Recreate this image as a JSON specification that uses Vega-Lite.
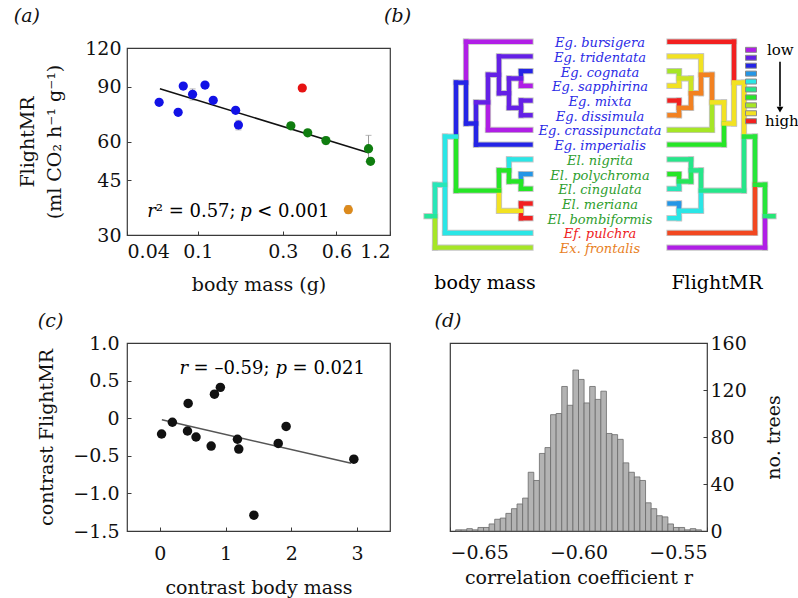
{
  "$schema": "https://vega.github.io/schema/vega-lite/v6.json",
  "background": "white",
  "padding": {"left": 13, "top": 6, "right": 0, "bottom": 0},
  "bounds": "flush",
  "columns": 2,
  "spacing": {"row": 108, "column": 60},
  "datasets": {
    "ptsA": [
      {"m": 0.0606, "f": 80.2, "g": "Euglossa", "lo": 79.0, "hi": 81.5},
      {"m": 0.0775, "f": 74.5, "g": "Euglossa", "lo": 73.5, "hi": 75.5},
      {"m": 0.0828, "f": 90.5, "g": "Euglossa", "lo": 89.3, "hi": 91.7},
      {"m": 0.0934, "f": 85.1, "g": "Euglossa", "lo": 81.6, "hi": 88.6},
      {"m": 0.1097, "f": 91.2, "g": "Euglossa", "lo": 89.5, "hi": 93.0},
      {"m": 0.122, "f": 81.4, "g": "Euglossa", "lo": 80.3, "hi": 82.5},
      {"m": 0.163, "f": 75.6, "g": "Euglossa", "lo": 74.6, "hi": 76.6},
      {"m": 0.169, "f": 67.8, "g": "Euglossa", "lo": 65.4, "hi": 70.2},
      {"m": 0.386, "f": 89.2, "g": "Eufriesea", "lo": 88.4, "hi": 90.0},
      {"m": 0.333, "f": 67.4, "g": "Eulaema", "lo": 65.9, "hi": 68.9},
      {"m": 0.414, "f": 64.0, "g": "Eulaema", "lo": 63.0, "hi": 65.0},
      {"m": 0.524, "f": 60.4, "g": "Eulaema", "lo": 58.8, "hi": 62.0},
      {"m": 0.909, "f": 56.9, "g": "Eulaema", "lo": 51.6, "hi": 62.8},
      {"m": 0.933, "f": 51.8, "g": "Eulaema", "lo": 51.0, "hi": 52.6},
      {"m": 0.70, "f": 36.2, "g": "Exaerete", "lo": 35.2, "hi": 37.3}
    ],
    "segs": [
      {"x": -134, "x2": -69.5, "y": 0, "y2": 0, "v": 1},
      {"x": -101, "x2": -69.5, "y": 1, "y2": 1, "v": 2},
      {"x": -79, "x2": -69.5, "y": 2, "y2": 2, "v": 3},
      {"x": -79, "x2": -69.5, "y": 3, "y2": 3, "v": 1},
      {"x": -79, "x2": -69.5, "y": 4, "y2": 4, "v": 2},
      {"x": -79, "x2": -69.5, "y": 5, "y2": 5, "v": 2},
      {"x": -112, "x2": -69.5, "y": 6, "y2": 6, "v": 1},
      {"x": -124, "x2": -69.5, "y": 7, "y2": 7, "v": 3},
      {"x": -91, "x2": -69.5, "y": 8, "y2": 8, "v": 5},
      {"x": -79, "x2": -69.5, "y": 9, "y2": 9, "v": 4},
      {"x": -79, "x2": -69.5, "y": 10, "y2": 10, "v": 7},
      {"x": -79, "x2": -69.5, "y": 11, "y2": 11, "v": 10},
      {"x": -79, "x2": -69.5, "y": 12, "y2": 12, "v": 10},
      {"x": -155, "x2": -69.5, "y": 13, "y2": 13, "v": 5},
      {"x": -165, "x2": -69.5, "y": 14, "y2": 14, "v": 8},
      {"x": -79, "x2": -79, "y": 2, "y2": 2.5, "v": 3},
      {"x": -79, "x2": -79, "y": 2.5, "y2": 3, "v": 1},
      {"x": -79, "x2": -79, "y": 4, "y2": 5, "v": 2},
      {"x": -91, "x2": -91, "y": 2.5, "y2": 4.5, "v": 2},
      {"x": -101, "x2": -101, "y": 1, "y2": 3.5, "v": 2},
      {"x": -112, "x2": -112, "y": 2.25, "y2": 4.125, "v": 2},
      {"x": -112, "x2": -112, "y": 4.125, "y2": 6, "v": 1},
      {"x": -124, "x2": -124, "y": 4.125, "y2": 5.5625, "v": 2.5},
      {"x": -124, "x2": -124, "y": 5.5625, "y2": 7, "v": 3},
      {"x": -134, "x2": -134, "y": 0, "y2": 2.78125, "v": 1},
      {"x": -134, "x2": -134, "y": 2.78125, "y2": 5.5625, "v": 3},
      {"x": -79, "x2": -79, "y": 9, "y2": 9.5, "v": 4},
      {"x": -79, "x2": -79, "y": 9.5, "y2": 10, "v": 7},
      {"x": -91, "x2": -91, "y": 8, "y2": 8.75, "v": 5},
      {"x": -91, "x2": -91, "y": 8.75, "y2": 9.5, "v": 7},
      {"x": -79, "x2": -79, "y": 11, "y2": 12, "v": 10},
      {"x": -101, "x2": -101, "y": 8.75, "y2": 10.125, "v": 7},
      {"x": -101, "x2": -101, "y": 10.125, "y2": 11.5, "v": 9},
      {"x": -144, "x2": -144, "y": 2.78125, "y2": 6.453, "v": 3},
      {"x": -144, "x2": -144, "y": 6.453, "y2": 10.125, "v": 7},
      {"x": -155, "x2": -155, "y": 6.453, "y2": 13, "v": 5},
      {"x": -165, "x2": -165, "y": 9.727, "y2": 11.863, "v": 5.5},
      {"x": -165, "x2": -165, "y": 11.863, "y2": 14, "v": 8},
      {"x": -91, "x2": -79, "y": 2.5, "y2": 2.5, "v": 2},
      {"x": -91, "x2": -79, "y": 4.5, "y2": 4.5, "v": 2},
      {"x": -101, "x2": -91, "y": 3.5, "y2": 3.5, "v": 2},
      {"x": -112, "x2": -101, "y": 2.25, "y2": 2.25, "v": 2},
      {"x": -124, "x2": -112, "y": 4.125, "y2": 4.125, "v": 2},
      {"x": -134, "x2": -124, "y": 5.5625, "y2": 5.5625, "v": 3},
      {"x": -144, "x2": -134, "y": 2.78125, "y2": 2.78125, "v": 3},
      {"x": -91, "x2": -79, "y": 9.5, "y2": 9.5, "v": 7},
      {"x": -101, "x2": -91, "y": 8.75, "y2": 8.75, "v": 7},
      {"x": -101, "x2": -79, "y": 11.5, "y2": 11.5, "v": 9},
      {"x": -144, "x2": -101, "y": 10.125, "y2": 10.125, "v": 7},
      {"x": -155, "x2": -144, "y": 6.453, "y2": 6.453, "v": 5},
      {"x": -165, "x2": -155, "y": 9.727, "y2": 9.727, "v": 5.5},
      {"x": -173.5, "x2": -165, "y": 11.863, "y2": 11.863, "v": 5.8},
      {"x": 69.5, "x2": 134, "y": 0, "y2": 0, "v": 10},
      {"x": 69.5, "x2": 101, "y": 1, "y2": 1, "v": 9},
      {"x": 69.5, "x2": 79, "y": 2, "y2": 2, "v": 8},
      {"x": 69.5, "x2": 79, "y": 3, "y2": 3, "v": 9},
      {"x": 69.5, "x2": 79, "y": 4, "y2": 4, "v": 10},
      {"x": 69.5, "x2": 79, "y": 5, "y2": 5, "v": 9.5},
      {"x": 69.5, "x2": 112, "y": 6, "y2": 6, "v": 8},
      {"x": 69.5, "x2": 124, "y": 7, "y2": 7, "v": 7},
      {"x": 69.5, "x2": 91, "y": 8, "y2": 8, "v": 6},
      {"x": 69.5, "x2": 79, "y": 9, "y2": 9, "v": 7},
      {"x": 69.5, "x2": 79, "y": 10, "y2": 10, "v": 5.5},
      {"x": 69.5, "x2": 79, "y": 11, "y2": 11, "v": 4},
      {"x": 69.5, "x2": 79, "y": 12, "y2": 12, "v": 5},
      {"x": 69.5, "x2": 155, "y": 13, "y2": 13, "v": 9.8},
      {"x": 69.5, "x2": 165, "y": 14, "y2": 14, "v": 1},
      {"x": 79, "x2": 79, "y": 2, "y2": 2.5, "v": 8},
      {"x": 79, "x2": 79, "y": 2.5, "y2": 3, "v": 9},
      {"x": 79, "x2": 79, "y": 4, "y2": 4.5, "v": 10},
      {"x": 79, "x2": 79, "y": 4.5, "y2": 5, "v": 9.5},
      {"x": 91, "x2": 91, "y": 2.5, "y2": 3.5, "v": 8.5},
      {"x": 91, "x2": 91, "y": 3.5, "y2": 4.5, "v": 9.5},
      {"x": 101, "x2": 101, "y": 1, "y2": 2.25, "v": 9},
      {"x": 101, "x2": 101, "y": 2.25, "y2": 3.5, "v": 9.5},
      {"x": 112, "x2": 112, "y": 2.25, "y2": 4.125, "v": 9.5},
      {"x": 112, "x2": 112, "y": 4.125, "y2": 6, "v": 8},
      {"x": 124, "x2": 124, "y": 4.125, "y2": 5.5625, "v": 9},
      {"x": 124, "x2": 124, "y": 5.5625, "y2": 7, "v": 7},
      {"x": 134, "x2": 134, "y": 0, "y2": 2.78125, "v": 10},
      {"x": 134, "x2": 134, "y": 2.78125, "y2": 5.5625, "v": 9},
      {"x": 79, "x2": 79, "y": 9, "y2": 9.5, "v": 7},
      {"x": 79, "x2": 79, "y": 9.5, "y2": 10, "v": 5.5},
      {"x": 91, "x2": 91, "y": 8, "y2": 8.75, "v": 6},
      {"x": 91, "x2": 91, "y": 8.75, "y2": 9.5, "v": 6.5},
      {"x": 79, "x2": 79, "y": 11, "y2": 11.5, "v": 4},
      {"x": 79, "x2": 79, "y": 11.5, "y2": 12, "v": 5},
      {"x": 101, "x2": 101, "y": 8.75, "y2": 10.125, "v": 6},
      {"x": 101, "x2": 101, "y": 10.125, "y2": 11.5, "v": 5},
      {"x": 144, "x2": 144, "y": 2.78125, "y2": 6.453, "v": 9},
      {"x": 144, "x2": 144, "y": 6.453, "y2": 10.125, "v": 6},
      {"x": 155, "x2": 155, "y": 6.453, "y2": 9.727, "v": 6.8},
      {"x": 155, "x2": 155, "y": 9.727, "y2": 13, "v": 9.8},
      {"x": 165, "x2": 165, "y": 9.727, "y2": 11.863, "v": 6.8},
      {"x": 165, "x2": 165, "y": 11.863, "y2": 14, "v": 1},
      {"x": 79, "x2": 91, "y": 2.5, "y2": 2.5, "v": 8.5},
      {"x": 79, "x2": 91, "y": 4.5, "y2": 4.5, "v": 9.5},
      {"x": 91, "x2": 101, "y": 3.5, "y2": 3.5, "v": 9.5},
      {"x": 101, "x2": 112, "y": 2.25, "y2": 2.25, "v": 9.5},
      {"x": 112, "x2": 124, "y": 4.125, "y2": 4.125, "v": 9},
      {"x": 124, "x2": 134, "y": 5.5625, "y2": 5.5625, "v": 9},
      {"x": 134, "x2": 144, "y": 2.78125, "y2": 2.78125, "v": 9},
      {"x": 79, "x2": 91, "y": 9.5, "y2": 9.5, "v": 6.5},
      {"x": 91, "x2": 101, "y": 8.75, "y2": 8.75, "v": 6},
      {"x": 79, "x2": 101, "y": 11.5, "y2": 11.5, "v": 5},
      {"x": 101, "x2": 144, "y": 10.125, "y2": 10.125, "v": 6},
      {"x": 144, "x2": 155, "y": 6.453, "y2": 6.453, "v": 6.8},
      {"x": 155, "x2": 165, "y": 9.727, "y2": 9.727, "v": 6.8},
      {"x": 165, "x2": 173.5, "y": 11.863, "y2": 11.863, "v": 6.2}
    ]
  },
  "concat": [
    {
      "width": 263,
      "height": 187,
      "title": {"text": "(a)", "offset": 13, "dx": -5},
      "encoding": {
        "x": {"field": "m", "type": "quantitative",
              "scale": {"type": "log", "domain": [0.04, 1.2], "nice": false},
              "axis": {"values": [0.04, 0.1, 0.3, 0.6, 1.2], "format": "~g", "title": "body mass (g)", "labelPadding": 11, "titlePadding": 14}},
        "y": {"field": "f", "type": "quantitative",
              "scale": {"type": "log", "domain": [30, 120], "nice": false},
              "axis": {"values": [30, 45, 60, 90, 120], "format": "d", "title": ["FlightMR", "(ml CO₂ h⁻¹ g⁻¹)"], "labelPadding": 10, "titlePadding": 20, "titleLineHeight": 27}}
      },
      "layer": [
        {"data": {"name": "ptsA"}, "mark": {"type": "rule", "color": "#9a9a9a", "strokeWidth": 1},
         "encoding": {"y": {"field": "lo", "type": "quantitative", "scale": {"type": "log", "domain": [30, 120], "nice": false}}, "y2": {"field": "hi"}}},
        {"data": {"name": "ptsA"}, "mark": {"type": "tick", "orient": "horizontal", "color": "#9a9a9a", "size": 6, "thickness": 1},
         "encoding": {"y": {"field": "hi", "type": "quantitative", "scale": {"type": "log", "domain": [30, 120], "nice": false}}}},
        {"data": {"name": "ptsA"}, "mark": {"type": "tick", "orient": "horizontal", "color": "#9a9a9a", "size": 6, "thickness": 1},
         "encoding": {"y": {"field": "lo", "type": "quantitative", "scale": {"type": "log", "domain": [30, 120], "nice": false}}}},
        {"data": {"values": [{"m": 0.0612, "f": 88.7}, {"m": 0.909, "f": 55.2}]},
         "mark": {"type": "line", "color": "#111111", "strokeWidth": 1.5}},
        {"data": {"name": "ptsA"}, "mark": {"type": "circle", "size": 85, "opacity": 1},
         "encoding": {"color": {"field": "g", "type": "nominal", "legend": null,
           "scale": {"domain": ["Euglossa", "Eulaema", "Eufriesea", "Exaerete"], "range": ["#1212e6", "#0f7d0f", "#e61212", "#dc8a1c"]}}}},
        {"data": {"values": [{"m": 0.0519, "f": 35.6, "t": "r"}]}, "mark": {"type": "text", "align": "left", "baseline": "middle", "fontSize": 18, "fontStyle": "italic", "font": "DejaVu Serif"}, "encoding": {"text": {"field": "t"}}},
        {"data": {"values": [{"m": 0.0519, "f": 35.6, "t": "² = 0.57;"}]}, "mark": {"type": "text", "align": "left", "baseline": "middle", "fontSize": 18, "dx": 8.6, "font": "DejaVu Serif"}, "encoding": {"text": {"field": "t"}}},
        {"data": {"values": [{"m": 0.0519, "f": 35.6, "t": "p"}]}, "mark": {"type": "text", "align": "left", "baseline": "middle", "fontSize": 18, "fontStyle": "italic", "dx": 93, "font": "DejaVu Serif"}, "encoding": {"text": {"field": "t"}}},
        {"data": {"values": [{"m": 0.0519, "f": 35.6, "t": "< 0.001"}]}, "mark": {"type": "text", "align": "left", "baseline": "middle", "fontSize": 18, "dx": 110, "font": "DejaVu Serif"}, "encoding": {"text": {"field": "t"}}}
      ]
    },
    {
      "width": 257,
      "height": 187,
      "view": {"stroke": null},
      "title": {"text": "(b)", "offset": 11, "dx": -38},
      "encoding": {
        "x": {"field": "x", "type": "quantitative", "scale": {"domain": [-150, 107], "nice": false, "zero": false}, "axis": null},
        "y": {"field": "y", "type": "quantitative", "scale": {"domain": [0.428, 13.141], "nice": false, "zero": false, "reverse": true}, "axis": null}
      },
      "layer": [
        {"data": {"name": "segs"}, "mark": {"type": "rule", "color": "#c4c4c4", "strokeWidth": 6.2, "strokeCap": "square"},
         "encoding": {"x2": {"field": "x2"}, "y2": {"field": "y2"}}},
        {"data": {"name": "segs"}, "mark": {"type": "rule", "strokeWidth": 4.4, "strokeCap": "square"},
         "encoding": {"x2": {"field": "x2"}, "y2": {"field": "y2"},
           "stroke": {"field": "v", "type": "quantitative", "legend": null,
             "scale": {"domain": [1, 2, 3, 4, 5, 6, 7, 8, 9, 10], "range": ["#b01ee6", "#6420e6", "#2424e6", "#2496e6", "#2ae6e6", "#26e68a", "#26e626", "#a6e626", "#f2e222", "#f22020"], "interpolate": "rgb"}}}},
        {"data": {"values": [
           {"v": 1, "x": 145.5, "x2": 156.5, "y": 0.383, "y2": 0.723},
           {"v": 2, "x": 145.5, "x2": 156.5, "y": 0.922, "y2": 1.262},
           {"v": 3, "x": 145.5, "x2": 156.5, "y": 1.461, "y2": 1.801},
           {"v": 4, "x": 145.5, "x2": 156.5, "y": 2.0, "y2": 2.34},
           {"v": 5, "x": 145.5, "x2": 156.5, "y": 2.539, "y2": 2.879},
           {"v": 6, "x": 145.5, "x2": 156.5, "y": 3.078, "y2": 3.418},
           {"v": 7, "x": 145.5, "x2": 156.5, "y": 3.617, "y2": 3.957},
           {"v": 8, "x": 145.5, "x2": 156.5, "y": 4.156, "y2": 4.496},
           {"v": 9, "x": 145.5, "x2": 156.5, "y": 4.695, "y2": 5.035},
           {"v": 10, "x": 145.5, "x2": 156.5, "y": 5.234, "y2": 5.574}
         ]},
         "mark": {"type": "rect", "stroke": "#8a8a8a", "strokeWidth": 1},
         "encoding": {"x2": {"field": "x2"}, "y2": {"field": "y2"},
           "fill": {"field": "v", "type": "quantitative", "legend": null,
             "scale": {"domain": [1, 2, 3, 4, 5, 6, 7, 8, 9, 10], "range": ["#b01ee6", "#6420e6", "#2424e6", "#2496e6", "#2ae6e6", "#26e68a", "#26e626", "#a6e626", "#f2e222", "#f22020"]}}}},
        {"data": {"values": [{"x": 180, "x2": 180, "y": 1.36, "y2": 4.4}]},
         "mark": {"type": "rule", "color": "#000000", "strokeWidth": 1.6},
         "encoding": {"x2": {"field": "x2"}, "y2": {"field": "y2"}}},
        {"data": {"values": [{"x": 180, "y": 4.62}]},
         "mark": {"type": "point", "shape": "triangle-down", "filled": true, "color": "#000000", "size": 45, "opacity": 1}},
        {"data": {"values": [{"x": 167, "y": 0.56, "t": "low"}, {"x": 165, "y": 5.4, "t": "high"}]},
         "mark": {"type": "text", "align": "left", "baseline": "middle", "fontSize": 15, "font": "DejaVu Serif", "color": "#000000"},
         "encoding": {"text": {"field": "t"}}},
        {"data": {"values": [{"x": -115, "y": 16.4, "t": "body mass"}, {"x": 117, "y": 16.4, "t": "FlightMR"}]},
         "mark": {"type": "text", "align": "center", "baseline": "middle", "fontSize": 19, "font": "DejaVu Serif", "color": "#000000"},
         "encoding": {"text": {"field": "t"}}},
        {"data": {"values": [
           {"x": 0, "y": 0, "t": "Eg. bursigera", "g": "Euglossa"},
           {"x": 0, "y": 1, "t": "Eg. tridentata", "g": "Euglossa"},
           {"x": 0, "y": 2, "t": "Eg. cognata", "g": "Euglossa"},
           {"x": 0, "y": 3, "t": "Eg. sapphirina", "g": "Euglossa"},
           {"x": 0, "y": 4, "t": "Eg. mixta", "g": "Euglossa"},
           {"x": 0, "y": 5, "t": "Eg. dissimula", "g": "Euglossa"},
           {"x": 0, "y": 6, "t": "Eg. crassipunctata", "g": "Euglossa"},
           {"x": 0, "y": 7, "t": "Eg. imperialis", "g": "Euglossa"},
           {"x": 0, "y": 8, "t": "El. nigrita", "g": "Eulaema"},
           {"x": 0, "y": 9, "t": "El. polychroma", "g": "Eulaema"},
           {"x": 0, "y": 10, "t": "El. cingulata", "g": "Eulaema"},
           {"x": 0, "y": 11, "t": "El. meriana", "g": "Eulaema"},
           {"x": 0, "y": 12, "t": "El. bombiformis", "g": "Eulaema"},
           {"x": 0, "y": 13, "t": "Ef. pulchra", "g": "Eufriesea"},
           {"x": 0, "y": 14, "t": "Ex. frontalis", "g": "Exaerete"}
         ]},
         "mark": {"type": "text", "align": "center", "baseline": "middle", "fontSize": 13, "fontStyle": "italic", "font": "DejaVu Serif", "dy": 1.5},
         "encoding": {"text": {"field": "t"},
           "fill": {"field": "g", "type": "nominal", "legend": null,
             "scale": {"domain": ["Euglossa", "Eulaema", "Eufriesea", "Exaerete"], "range": ["#2b2be6", "#2e9e2e", "#ee1c1c", "#e8801e"]}}}}
      ],
      "resolve": {"scale": {"fill": "independent", "stroke": "independent", "color": "independent"}}
    },
    {
      "width": 263,
      "height": 188,
      "title": {"text": "(c)", "offset": 3},
      "encoding": {
        "x": {"field": "cx", "type": "quantitative", "scale": {"domain": [-0.5, 3.5], "nice": false, "zero": false},
              "axis": {"values": [0, 1, 2, 3], "format": "d", "title": "contrast body mass", "labelPadding": 17, "titlePadding": 15}},
        "y": {"field": "cy", "type": "quantitative", "scale": {"domain": [-1.5, 1.0], "nice": false, "zero": false},
              "axis": {"values": [-1.5, -1, -0.5, 0, 0.5, 1], "labelExpr": "datum.value == 0 ? '0' : format(datum.value, '.1f')", "title": "contrast FlightMR", "labelPadding": 12, "titlePadding": 16}}
      },
      "layer": [
        {"data": {"values": [{"cx": 0.03, "cy": -0.022}, {"cx": 2.91, "cy": -0.60}]},
         "mark": {"type": "line", "color": "#555555", "strokeWidth": 1.5}},
        {"data": {"values": [
           {"cx": 0.026, "cy": -0.21}, {"cx": 0.19, "cy": -0.054}, {"cx": 0.43, "cy": 0.196},
           {"cx": 0.42, "cy": -0.17}, {"cx": 0.55, "cy": -0.25}, {"cx": 0.78, "cy": -0.37},
           {"cx": 0.83, "cy": 0.32}, {"cx": 0.92, "cy": 0.41}, {"cx": 1.18, "cy": -0.28},
           {"cx": 1.2, "cy": -0.41}, {"cx": 1.43, "cy": -1.29}, {"cx": 1.8, "cy": -0.335},
           {"cx": 1.92, "cy": -0.11}, {"cx": 2.95, "cy": -0.545}
         ]},
         "mark": {"type": "circle", "size": 90, "color": "#111111", "opacity": 1}},
        {"data": {"values": [{"cx": 0.3, "cy": 0.648, "t": "r"}]}, "mark": {"type": "text", "align": "left", "baseline": "middle", "fontSize": 18, "fontStyle": "italic", "font": "DejaVu Serif"}, "encoding": {"text": {"field": "t"}}},
        {"data": {"values": [{"cx": 0.3, "cy": 0.648, "t": "= –0.59;"}]}, "mark": {"type": "text", "align": "left", "baseline": "middle", "fontSize": 18, "dx": 14, "font": "DejaVu Serif"}, "encoding": {"text": {"field": "t"}}},
        {"data": {"values": [{"cx": 0.3, "cy": 0.648, "t": "p"}]}, "mark": {"type": "text", "align": "left", "baseline": "middle", "fontSize": 18, "fontStyle": "italic", "dx": 96, "font": "DejaVu Serif"}, "encoding": {"text": {"field": "t"}}},
        {"data": {"values": [{"cx": 0.3, "cy": 0.648, "t": "= 0.021"}]}, "mark": {"type": "text", "align": "left", "baseline": "middle", "fontSize": 18, "dx": 113, "font": "DejaVu Serif"}, "encoding": {"text": {"field": "t"}}}
      ]
    },
    {
      "width": 257,
      "height": 188,
      "title": {"text": "(d)", "offset": 3, "dx": -15},
      "data": {"values": [
        {"lo": -0.647826, "hi": -0.645652, "n": 1},
        {"lo": -0.645652, "hi": -0.643478, "n": 1},
        {"lo": -0.643478, "hi": -0.641304, "n": 2},
        {"lo": -0.641304, "hi": -0.639130, "n": 1},
        {"lo": -0.639130, "hi": -0.636957, "n": 3},
        {"lo": -0.636957, "hi": -0.634783, "n": 3},
        {"lo": -0.634783, "hi": -0.632609, "n": 6},
        {"lo": -0.632609, "hi": -0.630435, "n": 10},
        {"lo": -0.630435, "hi": -0.628261, "n": 11},
        {"lo": -0.628261, "hi": -0.626087, "n": 15},
        {"lo": -0.626087, "hi": -0.623913, "n": 19},
        {"lo": -0.623913, "hi": -0.621739, "n": 23},
        {"lo": -0.621739, "hi": -0.619565, "n": 28},
        {"lo": -0.619565, "hi": -0.617391, "n": 50},
        {"lo": -0.617391, "hi": -0.615217, "n": 43},
        {"lo": -0.615217, "hi": -0.613043, "n": 66},
        {"lo": -0.613043, "hi": -0.610870, "n": 71},
        {"lo": -0.610870, "hi": -0.608696, "n": 99},
        {"lo": -0.608696, "hi": -0.606522, "n": 100},
        {"lo": -0.606522, "hi": -0.604348, "n": 123},
        {"lo": -0.604348, "hi": -0.602174, "n": 107},
        {"lo": -0.602174, "hi": -0.600000, "n": 137},
        {"lo": -0.600000, "hi": -0.597826, "n": 129},
        {"lo": -0.597826, "hi": -0.595652, "n": 109},
        {"lo": -0.595652, "hi": -0.593478, "n": 123},
        {"lo": -0.593478, "hi": -0.591304, "n": 112},
        {"lo": -0.591304, "hi": -0.589130, "n": 119},
        {"lo": -0.589130, "hi": -0.586957, "n": 83},
        {"lo": -0.586957, "hi": -0.584783, "n": 82},
        {"lo": -0.584783, "hi": -0.582609, "n": 78},
        {"lo": -0.582609, "hi": -0.580435, "n": 58},
        {"lo": -0.580435, "hi": -0.578261, "n": 50},
        {"lo": -0.578261, "hi": -0.576087, "n": 46},
        {"lo": -0.576087, "hi": -0.573913, "n": 43},
        {"lo": -0.573913, "hi": -0.571739, "n": 24},
        {"lo": -0.571739, "hi": -0.569565, "n": 19},
        {"lo": -0.569565, "hi": -0.567391, "n": 13},
        {"lo": -0.567391, "hi": -0.565217, "n": 12},
        {"lo": -0.565217, "hi": -0.563043, "n": 6},
        {"lo": -0.563043, "hi": -0.560870, "n": 3},
        {"lo": -0.560870, "hi": -0.558696, "n": 3},
        {"lo": -0.558696, "hi": -0.556522, "n": 1},
        {"lo": -0.556522, "hi": -0.554348, "n": 2},
        {"lo": -0.554348, "hi": -0.552174, "n": 1}
      ]},
      "mark": {"type": "rect", "fill": "#b3b3b3", "stroke": "#6a6a6a", "strokeWidth": 0.8},
      "encoding": {
        "x": {"field": "lo", "type": "quantitative", "scale": {"domain": [-0.65, -0.55], "nice": false, "zero": false},
              "axis": {"values": [-0.65, -0.6, -0.55], "format": ".2f", "title": "correlation coefficient r", "labelPadding": 16, "titlePadding": 6}},
        "x2": {"field": "hi"},
        "y": {"field": "n", "type": "quantitative", "scale": {"domain": [0, 160], "nice": false},
              "axis": {"orient": "right", "values": [0, 40, 80, 120, 160], "title": "no. trees", "titleAngle": 270, "labelPadding": 7, "titlePadding": 37}},
        "y2": {"datum": 0}
      }
    }
  ],
  "config": {
    "font": "DejaVu Serif",
    "view": {"stroke": "#3a3a3a", "strokeWidth": 1.2},
    "axis": {
      "grid": false, "domain": false,
      "labelFont": "DejaVu Serif", "titleFont": "DejaVu Serif",
      "labelFontSize": 19, "titleFontSize": 19, "titleFontWeight": "normal",
      "labelColor": "#111111", "titleColor": "#111111",
      "tickColor": "#3a3a3a", "tickSize": -4, "tickWidth": 1
    },
    "title": {"font": "DejaVu Serif", "fontSize": 19, "fontWeight": "normal", "fontStyle": "italic", "anchor": "start", "color": "#111111"},
    "text": {"font": "DejaVu Serif"}
  }
}
